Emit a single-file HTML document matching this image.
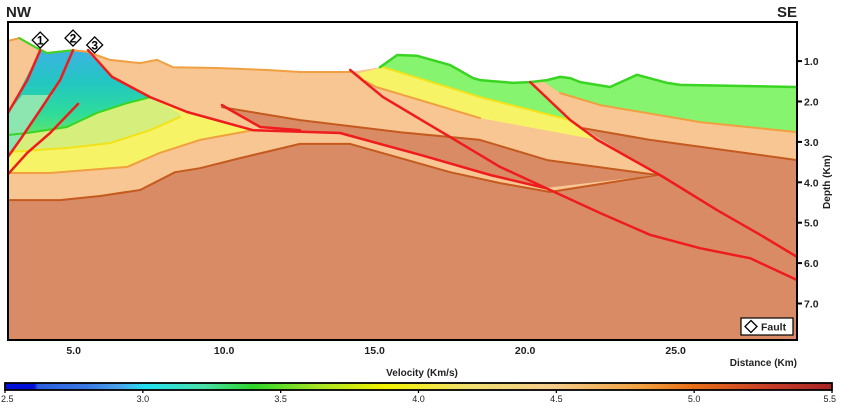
<!DOCTYPE html>
<html><head><meta charset="utf-8">
<style>
html,body{margin:0;padding:0;background:#fff;}
svg{display:block;font-family:"Liberation Sans",sans-serif;}
</style></head>
<body>
<svg id="chart" width="845" height="408" viewBox="0 0 845 408" xmlns="http://www.w3.org/2000/svg">
<defs>
  <linearGradient id="bodyGrad" x1="0" y1="0" x2="0" y2="1">
    <stop offset="0" stop-color="#3cb2e2"/>
    <stop offset="0.4" stop-color="#22c8c0"/>
    <stop offset="0.75" stop-color="#2edc9a"/>
    <stop offset="1" stop-color="#62e46c"/>
  </linearGradient>
  <linearGradient id="cbGrad" x1="0" y1="0" x2="1" y2="0">
    <stop offset="0" stop-color="#0010d8"/>
    <stop offset="0.035" stop-color="#0010d8"/>
    <stop offset="0.04" stop-color="#2a5ee0"/>
    <stop offset="0.1" stop-color="#3a7ae4"/>
    <stop offset="0.14" stop-color="#4aa6ec"/>
    <stop offset="0.17" stop-color="#24e0f2"/>
    <stop offset="0.24" stop-color="#48e0a8"/>
    <stop offset="0.3" stop-color="#2ed62a"/>
    <stop offset="0.38" stop-color="#a8e424"/>
    <stop offset="0.46" stop-color="#f2f200"/>
    <stop offset="0.56" stop-color="#f2e070"/>
    <stop offset="0.66" stop-color="#f4cc8c"/>
    <stop offset="0.77" stop-color="#f0a040"/>
    <stop offset="0.83" stop-color="#e87018"/>
    <stop offset="0.92" stop-color="#c84028"/>
    <stop offset="1" stop-color="#a82424"/>
  </linearGradient>
  <clipPath id="frameClip"><rect x="8" y="22" width="789" height="318"/></clipPath>
</defs>
<g id="plot" clip-path="url(#frameClip)"></g>
<g id="axes"></g>
</svg>
<script>
// ---- data (distance km, depth km) ----
const distTicks = [5, 10, 15, 20, 25];
const depthTicks = [1, 2, 3, 4, 5, 6, 7];
const velTicks = [2.5, 3.0, 3.5, 4.0, 4.5, 5.0, 5.5];
const topo = [[2.82,0.5],[3.2,0.43],[3.79,0.68],[4.12,0.8],[4.98,0.73],[5.45,0.77],[6.21,0.97],[7.21,1.05],[7.77,0.97],[8.3,1.15],[9.77,1.17],[11.43,1.22],[12.52,1.27],[14.19,1.27],[15.18,1.15],[15.75,0.85],[16.41,0.87],[17.51,1.1],[18.27,1.42],[18.5,1.47],[19.6,1.54],[20.17,1.52],[20.73,1.47],[21.16,1.39],[21.5,1.42],[21.83,1.52],[22.82,1.64],[23.72,1.34],[24.72,1.54],[25.15,1.59],[29.04,1.64]];
const darkBody = [[2.82,4.44],[4.55,4.44],[5.88,4.34],[7.21,4.19],[8.37,3.75],[9.2,3.65],[10.53,3.4],[12.52,3.05],[14.19,3.05],[15.85,3.4],[17.51,3.75],[19.17,4.02],[20.83,4.24],[24.39,3.82],[21.93,2.66],[24.15,2.95],[29.04,3.45],[29.04,7.95],[2.82,7.95]];
const darkWedge = [[9.93,2.14],[12.52,2.46],[15.85,2.76],[18.5,2.95],[20.73,3.45],[24.39,3.82],[20.66,4.14],[18.84,3.82],[16.51,3.32],[13.85,2.78],[11.2,2.66]];
const yellowLeft = [[2.82,3.77],[4.22,3.77],[6.78,3.62],[7.87,3.27],[9.2,2.95],[10.96,2.71],[8.77,2.26],[7.54,1.89],[6.78,2.04],[5.78,2.28],[4.78,2.63],[3.46,2.78],[2.82,2.83]];
const yellowGreenLeft = [[2.82,2.83],[3.46,2.78],[4.78,2.63],[5.78,2.28],[6.78,2.04],[7.54,1.89],[8.54,2.3],[8.54,2.38],[7.54,2.71],[6.21,3.03],[4.78,3.15],[2.82,3.25]];
const blueBody = [[2.82,2.28],[3.89,0.73],[4.12,0.8],[4.98,0.73],[5.45,0.77],[6.28,1.39],[7.54,1.89],[6.78,2.04],[5.78,2.28],[4.78,2.63],[3.46,2.78],[2.82,2.83]];
const mintStrip = [[3.3,1.84],[4.3,1.84],[3.89,2.21],[3.22,2.95],[2.82,3.37],[2.82,2.28]];
const greenRight1 = [[15.12,1.17],[15.18,1.15],[15.75,0.85],[16.41,0.87],[17.51,1.1],[18.27,1.42],[18.5,1.47],[19.6,1.54],[20.17,1.52],[21.5,2.46],[18.5,1.89],[15.28,1.15]];
const yellowRight = [[14.45,1.3],[15.28,1.15],[18.5,1.89],[21.5,2.46],[22.4,2.95],[18.5,2.41],[15.05,1.64],[14.7,1.5]];
const greenRight2 = [[20.6,1.5],[20.73,1.47],[21.16,1.39],[21.5,1.42],[21.83,1.52],[22.82,1.64],[23.72,1.34],[24.72,1.54],[25.15,1.59],[29.04,1.64],[29.04,2.76],[25.81,2.51],[22.49,2.09],[21.16,1.79]];
const fault1 = [[3.89,0.73],[3.46,1.47],[2.82,2.28]];
const fault2 = [[4.98,0.73],[4.55,1.47],[3.89,2.21],[3.22,2.95],[2.82,3.37]];
const fault3 = [[5.48,0.73],[6.28,1.39],[7.54,1.89],[8.77,2.26],[10.96,2.71],[13.85,2.78],[16.51,3.32],[18.84,3.82],[20.66,4.14]];
const fault6 = [[5.15,2.06],[4.22,2.78],[3.46,3.27],[2.82,3.8]];
const faultSmall = [[9.93,2.09],[11.2,2.63],[12.52,2.71]];
const fault4 = [[14.19,1.22],[15.28,1.89],[17.51,2.88],[19.17,3.62],[20.83,4.19],[22.49,4.76],[24.15,5.3],[25.81,5.63],[27.48,5.88],[29.04,6.42]];
const fault5 = [[20.17,1.52],[21.5,2.46],[22.4,2.95],[24.59,3.87],[26.38,4.69],[27.81,5.3],[29.04,5.85]];
const faultLabels = [["1",3.89,0.48],["2",4.98,0.43],["3",5.7,0.6]];

// ---- scales ----
const X0=8, X1=797, Y0=22, Y1=340;
const xs = km => 8 + (km - 2.82) * 30.1;
const ys = d => 20.7 + d * 40.4;
const cbX0 = 5, cbX1 = 832;
const cs = v => cbX0 + (v - 2.5) / 3 * (cbX1 - cbX0);

const NS = "http://www.w3.org/2000/svg";
const plot = document.getElementById('plot');
const axes = document.getElementById('axes');
function mk(tag, attrs, parent){ const e=document.createElementNS(NS,tag); for(const k in attrs) e.setAttribute(k,attrs[k]); parent.appendChild(e); return e; }
const pts = arr => arr.map(p => xs(p[0]).toFixed(1)+','+ys(p[1]).toFixed(1)).join(' ');

let e;
e = mk('polygon',{points: pts(topo)+' '+xs(29.04)+','+ys(7.95)+' '+xs(2.82)+','+ys(7.95), fill:'#f8c692'}, plot);



function layer(arr, fill, stroke, name){
  const p = mk('polygon',{points: pts(arr), fill: fill, stroke: stroke||'none', 'stroke-width':2, 'stroke-linejoin':'round'}, plot);
  
  
  return p;
}
function line(arr, stroke, w, name){
  const p = mk('polyline',{points: pts(arr), fill:'none', stroke: stroke, 'stroke-width': w, 'stroke-linejoin':'round','stroke-linecap':'round'}, plot);
  
  
  return p;
}
layer(darkBody,'#d98b66',null,'basement-layer');
line(darkBody.slice(0,14),'#c45a1e',2,'basement-top-horizon');
line(darkBody.slice(14,17),'#c45a1e',2,'basement-top-horizon-east');
layer(darkWedge,'#d98b66',null,'thrust-wedge-layer');
line(darkWedge.slice(0,6),'#c45a1e',2,'thrust-wedge-horizon');
layer(yellowLeft,'#f6f466',null,'yellow-layer-west');
line(yellowLeft.slice(0,6),'#f0a040',2,'yellow-base-horizon-west');
layer(yellowGreenLeft,'#d6ef7c',null,'yellow-green-layer-west');
line(yellowGreenLeft.slice(7),'#f2e21a',2,'yellow-top-horizon-west');
layer(blueBody,'url(#bodyGrad)',null,'low-velocity-body');
layer(mintStrip,'#8de6b0',null,'mint-layer');
line(yellowGreenLeft.slice(0,6),'#3ad422',2,'green-horizon-west');
layer(yellowRight,'#f6f466',null,'yellow-layer-east');
line(yellowRight.slice(5,8),'#f0a040',2,'yellow-base-horizon-east');
layer(greenRight1,'#86f46e',null,'green-layer-central');
line(greenRight1.slice(9,12),'#f2e21a',2,'yellow-top-horizon-east');
layer(greenRight2,'#86f46e',null,'green-layer-east');
line(greenRight2.slice(10),'#f0a040',2,'green-base-horizon-east');
line(topo.slice(0,14),'#f0a040',2,'topography-west');
line(topo.slice(14,22),'#3ad422',2.5,'topography-central');
line(topo.slice(21),'#3ad422',2.5,'topography-east');
line(topo.slice(1,5),'#3ad422',2,'topography-body-top');

[[fault1,'fault-1'],[fault2,'fault-2'],[fault3,'fault-3'],[fault6,'fault-west-lower'],[faultSmall,'fault-splay'],[fault4,'fault-4'],[fault5,'fault-5']].forEach(f=>{
  line(f[0],'#ee1c1c',2.5,f[1]);
});

faultLabels.forEach(l=>{
  const cx=xs(l[1]), cy=ys(l[2]);
  const g = mk('g',{},axes);
  
  
  mk('polygon',{points:`${cx},${cy-8} ${cx+8},${cy} ${cx},${cy+8} ${cx-8},${cy}`, fill:'#fff', stroke:'#000','stroke-width':1.3}, g);
  const t = mk('text',{x:cx,y:cy+4.5,'text-anchor':'middle','font-size':12,'font-weight':'bold',fill:'#000'},g);
  t.textContent=l[0];
});

e = mk('rect',{x:X0,y:Y0,width:X1-X0,height:Y1-Y0,fill:'none',stroke:'#000','stroke-width':2},axes);



distTicks.forEach(v=>{
  const t = mk('text',{x:xs(v),y:354,'text-anchor':'middle','font-size':10.5,'font-weight':'bold',fill:'#222'},axes);
  
  
  t.textContent=v.toFixed(1);
});
depthTicks.forEach(v=>{
  const tk = mk('line',{x1:X1,x2:X1+5,y1:ys(v),y2:ys(v),stroke:'#000','stroke-width':2},axes);
  
  
  const t = mk('text',{x:X1+7,y:ys(v)+4,'font-size':10.5,'font-weight':'bold',fill:'#222'},axes);
  
  
  t.textContent=v.toFixed(1);
});

e = mk('rect',{x:cbX0,y:383,width:cbX1-cbX0,height:7,fill:'url(#cbGrad)',stroke:'#000','stroke-width':1.8},axes);


velTicks.forEach(v=>{
  const tk = mk('line',{x1:cs(v),x2:cs(v),y1:390,y2:393,stroke:'#000','stroke-width':1.3},axes);
  
  
  const anchor = v===2.5?'start':(v===5.5?'end':'middle');
  const t = mk('text',{x:cs(v)+(v===2.5?-4:(v===5.5?4:0)),y:402,'text-anchor':anchor,'font-size':9,fill:'#222'},axes);
  
  
  t.textContent=v.toFixed(1);
});
</script>
<script>
(function(){
  const NS="http://www.w3.org/2000/svg";
  const svg=document.getElementById('chart');
  function txt(x,y,s,size,anchor,name,extra){
    const t=document.createElementNS(NS,'text');
    t.setAttribute('x',x);t.setAttribute('y',y);t.setAttribute('font-size',size);
    t.setAttribute('font-weight','bold');t.setAttribute('fill','#222');
    t.setAttribute('text-anchor',anchor);
    if(extra) t.setAttribute('transform',extra);
    
    
    t.textContent=s;svg.appendChild(t);
  }
  txt(6,17,'NW',15,'start','nw-label');
  txt(797,17,'SE',15,'end','se-label');
  txt(797,366,'Distance (Km)',10,'end','x-axis-title');
  txt(422,376,'Velocity (Km/s)',10,'middle','colorbar-title');
  txt(830,182,'Depth (Km)',10,'middle','y-axis-title','rotate(-90 830 182)');
  const g=document.createElementNS(NS,'g');
  
  
  svg.appendChild(g);
  const r=document.createElementNS(NS,'rect');
  r.setAttribute('x',741);r.setAttribute('y',318);r.setAttribute('width',52);r.setAttribute('height',17);
  r.setAttribute('fill','#fff');r.setAttribute('stroke','#000');r.setAttribute('stroke-width',1.2);
  g.appendChild(r);
  const d=document.createElementNS(NS,'polygon');
  d.setAttribute('points','751,320.5 757,326.5 751,332.5 745,326.5');
  d.setAttribute('fill','#fff');d.setAttribute('stroke','#000');d.setAttribute('stroke-width',1.3);
  
  
  g.appendChild(d);
  const t=document.createElementNS(NS,'text');
  t.setAttribute('x',761);t.setAttribute('y',330.5);t.setAttribute('font-size',10.5);t.setAttribute('font-weight','bold');t.setAttribute('fill','#222');
  
  
  t.textContent='Fault';g.appendChild(t);
})();
</script>
</body></html>
